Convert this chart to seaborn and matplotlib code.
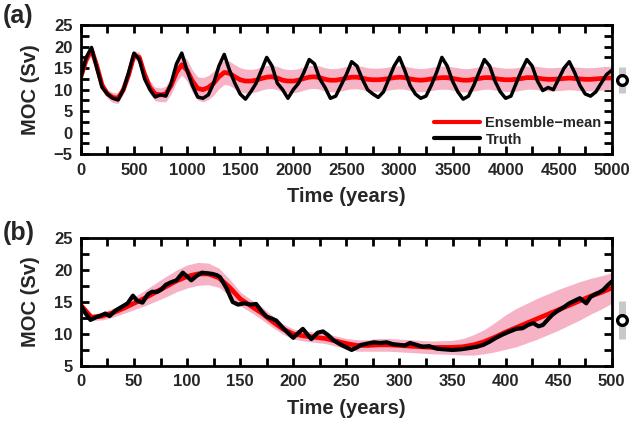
import numpy as np
import pandas as pd
import matplotlib
matplotlib.use("Agg")
import matplotlib.pyplot as plt
import matplotlib.transforms as mtransforms
from matplotlib.ticker import MultipleLocator
import seaborn as sns

# ---------------- Panel (a): 5000-year run ----------------
years_a = list(range(0, 5001, 50))
truth_a = [13.0, 17.5, 19.8, 15.0, 10.5, 9.0, 8.0, 7.6, 10.0, 14.0,
           18.5, 17.0, 12.5, 10.0, 8.3, 8.8, 8.5, 11.5, 16.0, 18.5,
           14.5, 11.0, 8.3, 8.0, 8.8, 11.5, 15.5, 18.2, 14.5, 11.5,
           9.0, 7.8, 9.5, 11.5, 14.5, 17.5, 15.5, 11.5, 10.0, 8.0,
           10.0, 11.5, 14.0, 17.0, 16.0, 12.5, 10.5, 8.0, 8.5, 11.0,
           13.5, 16.5, 15.5, 12.5, 10.0, 9.0, 8.2, 9.5, 12.5, 15.5,
           17.5, 14.5, 11.0, 9.0, 8.0, 8.5, 11.0, 14.0, 17.5, 15.5,
           12.0, 9.5, 7.8, 8.5, 11.0, 14.0, 17.0, 15.5, 12.0, 9.5,
           8.0, 8.5, 11.5, 14.5, 17.0, 15.5, 12.0, 9.8, 10.5, 10.0,
           12.5, 15.0, 16.5, 14.0, 11.0, 9.0, 8.5, 9.5, 11.5, 13.5,
           14.5]
mean_a = [13.0, 17.0, 19.3, 15.5, 11.0, 9.0, 8.2, 8.0, 10.0, 13.5,
          18.0, 17.5, 13.5, 10.5, 9.0, 8.8, 9.0, 11.0, 14.0, 15.8,
          14.5, 12.0, 10.3, 10.0, 10.5, 11.5, 13.0, 14.0, 13.8, 13.0,
          12.3, 12.0, 12.0, 12.2, 12.6, 12.9, 13.0, 12.7, 12.2, 12.0,
          12.0, 12.2, 12.6, 12.9, 13.0, 12.8, 12.4, 12.2, 12.2, 12.4,
          12.7, 12.9, 12.9, 12.7, 12.4, 12.3, 12.3, 12.4, 12.6, 12.8,
          12.9, 12.8, 12.5, 12.3, 12.2, 12.3, 12.5, 12.7, 12.8, 12.8,
          12.6, 12.4, 12.2, 12.2, 12.4, 12.6, 12.8, 12.8, 12.6, 12.4,
          12.3, 12.3, 12.4, 12.6, 12.8, 12.8, 12.7, 12.5, 12.4, 12.4,
          12.5, 12.6, 12.7, 12.6, 12.5, 12.4, 12.4, 12.5, 12.6, 12.7,
          12.7]
spread_a = [1.0, 1.2, 1.2, 1.0, 1.0, 1.0, 1.2, 1.2, 1.0, 1.0,
            1.0, 1.2, 1.3, 1.5, 1.6, 1.6, 1.8, 2.0, 2.2, 2.4,
            2.5, 2.6, 2.7, 2.8, 2.8, 2.8, 2.8, 2.8, 2.8, 2.8,
            2.8, 2.8, 2.7, 2.7, 2.7, 2.7, 2.7, 2.7, 2.7, 2.7,
            2.7, 2.7, 2.7, 2.7, 2.7, 2.7, 2.7, 2.7, 2.7, 2.7,
            2.7, 2.7, 2.7, 2.7, 2.7, 2.7, 2.7, 2.7, 2.7, 2.7,
            2.7, 2.7, 2.7, 2.7, 2.7, 2.7, 2.7, 2.7, 2.7, 2.7,
            2.7, 2.7, 2.7, 2.7, 2.7, 2.7, 2.7, 2.7, 2.7, 2.7,
            2.7, 2.7, 2.7, 2.7, 2.7, 2.7, 2.7, 2.7, 2.7, 2.7,
            2.7, 2.7, 2.7, 2.7, 2.7, 2.7, 2.7, 2.7, 2.7, 2.7,
            2.7]

# ---------------- Panel (b): first 500 years ----------------
years_b = list(range(0, 501, 10))
mean_b = [14.5, 12.6, 12.8, 13.3, 14.0, 14.8, 15.6, 16.5, 17.4, 18.3,
          19.0, 19.4, 19.4, 18.8, 17.3, 15.5, 14.4, 13.3, 12.0, 10.8,
          10.0, 9.7, 9.5, 9.3, 8.9, 8.5, 8.2, 8.2, 8.3, 8.3,
          8.2, 8.1, 8.0, 7.9, 7.9, 7.9, 8.0, 8.3, 8.8, 9.5,
          10.3, 11.0, 11.7, 12.4, 13.1, 13.8, 14.5, 15.2, 15.9, 16.5,
          17.2]
spread_b = [0.3, 0.5, 0.6, 0.7, 0.8, 1.0, 1.2, 1.4, 1.6, 1.7,
            1.8, 1.8, 1.7, 1.5, 1.3, 1.1, 1.0, 1.0, 0.9, 0.8,
            0.8, 0.8, 0.8, 0.8, 0.8, 0.8, 0.9, 0.9, 1.0, 1.0,
            1.0, 1.0, 1.0, 1.0, 1.05, 1.1, 1.3, 1.6, 1.9, 2.3,
            2.7, 3.0, 3.1, 3.2, 3.2, 3.2, 3.1, 3.0, 2.8, 2.6,
            2.4]
truth_years_b = [0, 4, 9, 14, 19, 23, 27, 32, 36, 40, 44, 49, 53, 58, 63,
                 67, 72, 76, 80, 85, 90, 96, 100, 104, 109, 114, 119, 124,
                 128, 131, 137, 143, 148, 154, 160, 165, 170, 175, 180, 184,
                 190, 196, 200, 205, 209, 213, 217, 223, 228, 233, 238, 244,
                 250, 255, 260, 264, 270, 276, 282, 288, 294, 300, 305, 310,
                 316, 322, 328, 335, 342, 350, 358, 366, 373, 379, 385, 391,
                 397, 404, 410, 416, 421, 426, 431, 435, 440, 444, 448, 454,
                 460, 465, 470, 473, 476, 480, 484, 488, 492, 496, 500]
truth_b = [14.5, 13.3, 12.2, 12.6, 12.9, 13.2, 12.8, 13.6, 14.0, 14.4, 14.8,
           16.0, 15.2, 14.9, 16.2, 16.6, 16.6, 17.0, 17.7, 18.1, 18.4, 19.6,
           19.0, 18.4, 19.1, 19.6, 19.5, 19.4, 19.2, 18.9, 17.2, 15.0, 14.6,
           14.8, 14.6, 14.7, 13.6, 12.7, 12.4, 12.1, 11.0, 10.0, 9.4, 10.2,
           10.8, 10.0, 9.2, 10.2, 10.4, 9.8, 9.0, 8.4, 7.9, 7.5, 7.9, 8.3,
           8.5, 8.7, 8.6, 8.7, 8.4, 8.3, 8.2, 8.6, 8.3, 8.0, 8.1, 7.7, 7.6,
           7.5, 7.6, 7.8, 8.0, 8.3, 8.8, 9.4, 9.9, 10.4, 10.8, 10.9, 11.4,
           11.7, 11.2, 11.4, 12.3, 13.0, 13.5, 14.1, 14.8, 15.2, 15.6, 15.2,
           14.8, 15.8, 16.2, 16.5, 16.9, 17.6, 18.2]

# Observational estimate shown beside each panel
obs_mean = 12.2
obs_err = 3.0

RED = "#ff0000"
PINK = "#f7b3c6"

sns.set_theme(style="ticks")
plt.rcParams["font.family"] = ["Liberation Sans", "DejaVu Sans"]
plt.rcParams["font.weight"] = "bold"
plt.rcParams["axes.labelweight"] = "bold"

fig = plt.figure(figsize=(6.32, 4.26), dpi=100)
ax_a = fig.add_axes([0.128, 0.638, 0.840, 0.303])
ax_b = fig.add_axes([0.128, 0.141, 0.840, 0.300])


def draw_panel(ax, years, mean, spread, t_years, truth, legend, truth_lw):
    df_m = pd.DataFrame({"year": years, "mean": mean, "spread": spread})
    df_t = pd.DataFrame({"year": t_years, "truth": truth})
    ax.fill_between(df_m["year"], df_m["mean"] - df_m["spread"],
                    df_m["mean"] + df_m["spread"], color=PINK, lw=0, zorder=1)
    sns.lineplot(data=df_m, x="year", y="mean", ax=ax, color=RED, lw=3.4,
                 label="Ensemble\u2212mean" if legend else None, zorder=2)
    sns.lineplot(data=df_t, x="year", y="truth", ax=ax, color="black",
                 lw=truth_lw, label="Truth" if legend else None, zorder=3)
    # observational estimate just outside the right spine
    trans = mtransforms.blended_transform_factory(ax.transAxes, ax.transData)
    ax.errorbar([1.019], [obs_mean], yerr=[obs_err], transform=trans,
                fmt="o", ms=7, mfc="white", mec="black", mew=2.4,
                ecolor="#c8c8c8", elinewidth=5, capsize=0, clip_on=False,
                zorder=5)


draw_panel(ax_a, years_a, mean_a, spread_a, years_a, truth_a, True, 2.5)
draw_panel(ax_b, years_b, mean_b, spread_b, truth_years_b, truth_b, False, 3.0)

ax_a.set_xlim(0, 5000)
ax_a.set_ylim(-5, 25)
ax_a.xaxis.set_major_locator(MultipleLocator(500))
ax_a.xaxis.set_minor_locator(MultipleLocator(250))
ax_a.yaxis.set_major_locator(MultipleLocator(5))
ax_a.yaxis.set_minor_locator(MultipleLocator(2.5))

ax_b.set_xlim(0, 500)
ax_b.set_ylim(5, 25)
ax_b.xaxis.set_major_locator(MultipleLocator(50))
ax_b.xaxis.set_minor_locator(MultipleLocator(25))
ax_b.yaxis.set_major_locator(MultipleLocator(5))
ax_b.yaxis.set_minor_locator(MultipleLocator(2.5))

for ax in (ax_a, ax_b):
    ax.set_xlabel("Time (years)", fontsize=14.5, fontweight="bold", labelpad=7)
    ax.set_ylabel("MOC (Sv)", fontsize=14.5, fontweight="bold", labelpad=10)
    for s in ax.spines.values():
        s.set_linewidth(2.0)
        s.set_color("black")
    ax.tick_params(which="both", direction="in", top=True, right=True,
                   width=2.0, color="black")
    ax.tick_params(which="major", length=5.5, labelsize=12, pad=6)
    ax.tick_params(which="minor", length=5.5)
    for lab in ax.get_xticklabels() + ax.get_yticklabels():
        lab.set_fontweight("bold")

leg = ax_a.legend(loc="lower right", bbox_to_anchor=(1.0, -0.02), frameon=False,
                  fontsize=10.5, handlelength=3.1, handletextpad=0.4,
                  labelspacing=0.2, borderaxespad=0.3)
for line in leg.get_lines():
    line.set_linewidth(3)
for t in leg.get_texts():
    t.set_fontweight("bold")

fig.text(0.004, 0.962, "(a)", fontsize=18, fontweight="bold", va="center")
fig.text(0.004, 0.453, "(b)", fontsize=18, fontweight="bold", va="center")

fig.savefig("out.png", dpi=100)
